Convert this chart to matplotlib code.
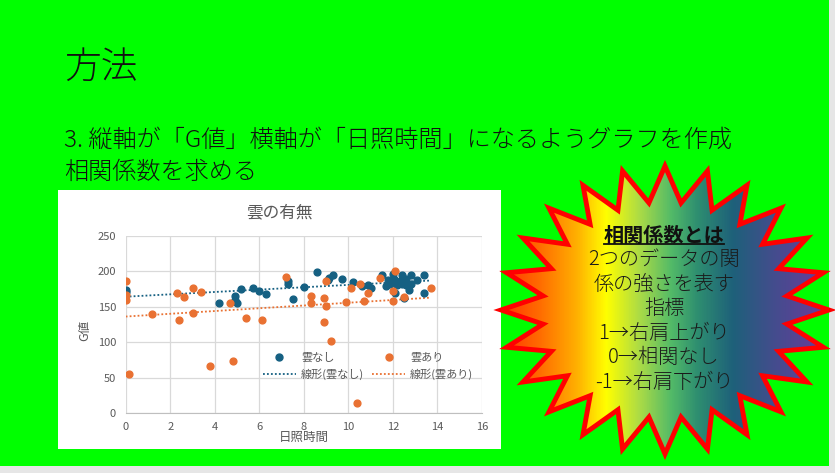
import numpy as np
import matplotlib
matplotlib.use("Agg")
import matplotlib.pyplot as plt
from matplotlib.patches import Rectangle, Polygon
from matplotlib.lines import Line2D
from matplotlib.colors import LinearSegmentedColormap

plt.rcParams['font.family'] = ['Noto Sans CJK JP', 'DejaVu Sans']

# ============================
# DATA
# ============================

# 雲なし: sunshine hours / G value
sun_clear = [0, 0, 4.2, 4.9, 4.9, 5.0, 5.2, 5.7, 6.0, 6.3, 7.3, 7.3, 7.5, 8.0,
             8.6, 9.1, 9.15, 9.3, 9.7, 10.2, 10.6, 10.9, 11.0, 11.5, 11.7, 11.8,
             11.85, 12.0, 12.05, 12.1, 12.1, 12.2, 12.3, 12.4, 12.4, 12.5, 12.5,
             12.6, 12.6, 12.7, 12.8, 12.8, 13.1, 13.4, 13.4]
g_clear = [174, 171, 156, 165, 160, 155, 175, 177, 173, 168, 187, 182, 161, 178,
           199, 188, 191, 195, 189, 185, 179, 181, 176, 195, 179, 188,
           182, 196, 190, 169, 185, 181, 187, 195, 183, 188, 162,
           181, 190, 174, 195, 183, 188, 195, 170]

# 雲あり
sun_cloud = [0, 0, 0, 0.15, 1.2, 2.3, 2.4, 2.6, 3.0, 3.0, 3.4, 3.8, 4.7, 4.8,
             5.4, 6.1, 7.2, 8.3, 8.3, 8.9, 8.9, 9.0, 9.0, 9.2, 9.9, 10.1, 10.4,
             10.5, 10.7, 10.9, 11.4, 12.0, 12.0, 12.1, 12.5, 13.7]
g_cloud = [187, 167, 160, 55, 140, 170, 132, 164, 176, 141, 171, 67, 156, 74,
           135, 132, 192, 166, 155, 162, 129, 186, 151, 102, 157, 176, 15,
           183, 159, 169, 191, 173, 159, 201, 164, 177]

slide_title = "方法"
body_lines = ["3. 縦軸が「G値」横軸が「日照時間」になるようグラフを作成",
              "相関係数を求める"]
star_head = "相関係数とは"
star_lines = ["2つのデータの関", "係の強さを表す", "指標",
              "1→右肩上がり", "0→相関なし", "-1→右肩下がり"]

c_clear = "#156082"
c_cloud = "#E97132"
grey_txt = "#595959"

# ============================
# FIGURE / SLIDE BACKGROUND
# ============================

W, H = 835, 473
fig = plt.figure(figsize=(W / 100, H / 100), dpi=100, facecolor="#E6E6E6")

bg = fig.add_axes([0, 0, 1, 1], zorder=0)
bg.set_xlim(0, W)
bg.set_ylim(H, 0)
bg.axis("off")

bg.add_patch(Rectangle((0, 0), 829, 466, facecolor="#00FF00", edgecolor="none"))
bg.text(64, 68, slide_title, fontsize=26.5, va="center", ha="left", color="#111111",
        fontweight="light")
bg.text(64, 140, body_lines[0], fontsize=17.4, va="center", ha="left", color="#111111",
        fontweight="light")
bg.text(64, 172, body_lines[1], fontsize=17.4, va="center", ha="left", color="#111111",
        fontweight="light")

# chart panel
bg.add_patch(Rectangle((58, 190), 443, 259, facecolor="white", edgecolor="none"))
bg.text(279.5, 213, "雲の有無", fontsize=12, ha="center", va="center", color=grey_txt)

# ============================
# SCATTER CHART
# ============================

ax = fig.add_axes([125.7 / W, (H - 413.3) / H, 356.3 / W, 177.3 / H], zorder=1)
ax.set_facecolor("white")

ax.scatter(sun_clear, g_clear, s=24, color=c_clear, zorder=3, label="雲なし")
ax.scatter(sun_cloud, g_cloud, s=24, color=c_cloud, zorder=3, label="雲あり")

x_end = max(max(sun_clear), max(sun_cloud))
xx = np.array([0, x_end])
p1 = np.polyfit(sun_clear, g_clear, 1)
p2 = np.polyfit(sun_cloud, g_cloud, 1)
ax.plot(xx, np.polyval(p1, xx), color=c_clear, lw=1.3, ls=(0, (1, 1.2)), zorder=2)
ax.plot(xx, np.polyval(p2, xx), color=c_cloud, lw=1.3, ls=(0, (1, 1.2)), zorder=2)

ax.set_xlim(0, 16)
ax.set_ylim(0, 250)
ax.set_xticks(range(0, 17, 2))
ax.set_yticks(range(0, 251, 50))
ax.grid(True, color="#D9D9D9", lw=0.9)
ax.set_axisbelow(True)
for s in ["top", "right", "left"]:
    ax.spines[s].set_visible(False)
ax.spines["bottom"].set_color("#BFBFBF")
ax.tick_params(length=0, labelsize=8, colors=grey_txt)
ax.tick_params(axis="y", pad=7)
ax.tick_params(axis="x", pad=6)

ax.set_xlabel("日照時間", fontsize=9, color=grey_txt)
ax.xaxis.set_label_coords(0.5, -0.1)
ax.set_ylabel("G値", fontsize=9, color=grey_txt)
ax.yaxis.set_label_coords(-0.098, 0.47)

handles = [
    Line2D([], [], ls="none", marker="o", ms=5, color=c_clear),
    Line2D([], [], color=c_clear, lw=1.3, ls=(0, (1, 1.2))),
    Line2D([], [], ls="none", marker="o", ms=5, color=c_cloud),
    Line2D([], [], color=c_cloud, lw=1.3, ls=(0, (1, 1.2))),
]
labels = ["雲なし", "線形(雲なし)", "雲あり", "線形(雲あり)"]
leg = ax.legend(handles, labels, ncol=2, loc="center", bbox_to_anchor=(0.68, 0.265),
                frameon=False, fontsize=8, handlelength=3.0, columnspacing=0.7,
                labelspacing=0.45, handletextpad=0.45)
for t in leg.get_texts():
    t.set_color(grey_txt)

# ============================
# STARBURST CALLOUT
# ============================

cx, cy, rx, ry = 665, 310, 164, 144
n_pts = 24
ang = np.arange(2 * n_pts) * np.pi / n_pts
rr = np.where(np.arange(2 * n_pts) % 2 == 0, 1.0, 0.75)
verts = np.column_stack([cx + rx * rr * np.cos(ang), cy - ry * rr * np.sin(ang)])

star = Polygon(verts, closed=True, facecolor="none", edgecolor="#FF0000",
               lw=3.5, joinstyle="miter", zorder=4)
bg.add_patch(star)

stops = [(0.00, "#FF3300"), (0.12, "#FF6E00"), (0.23, "#FFB000"), (0.32, "#FFFF00"),
         (0.42, "#ADDC45"), (0.52, "#52BA68"), (0.60, "#2E8E70"), (0.71, "#1E607A"),
         (0.84, "#454C8E"), (1.00, "#6C3A9C")]
cmap = LinearSegmentedColormap.from_list("burst", stops)
grad = np.linspace(0, 1, 400).reshape(1, -1)
img = bg.imshow(grad, cmap=cmap, aspect="auto", extent=[cx - rx, cx + rx, cy + ry, cy - ry],
                zorder=3, interpolation="bilinear")
clip = Polygon(verts, closed=True, transform=bg.transData)
img.set_clip_path(clip)
bg.set_xlim(0, W)
bg.set_ylim(H, 0)

head = bg.text(cx - 1, 235, star_head, fontsize=14.5, fontweight="bold", ha="center",
               va="center", color="#111111", zorder=5)
for i, line in enumerate(star_lines):
    bg.text(cx - 1, 259.5 + i * 24.5, line, fontsize=14.5, ha="center", va="center",
            color="#1A1A1A", zorder=5, fontweight="light")

fig.canvas.draw()
bb = head.get_window_extent().transformed(bg.transData.inverted())
bg.plot([bb.x0, bb.x1], [244, 244], color="#111111", lw=1.3, zorder=5)

fig.savefig("out.png", dpi=100, facecolor=fig.get_facecolor())
